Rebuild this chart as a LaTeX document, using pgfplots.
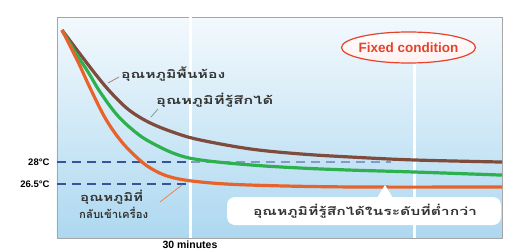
\documentclass[border=0pt]{standalone}
\usepackage{graphicx}
\usepackage{pgfplots}
\pgfplotsset{compat=1.18}
\usepackage{fontspec}
\setmainfont{Liberation Sans}
\newfontfamily\thaifont[Script=Thai]{Loma}
\definecolor{cbrown}{HTML}{7E4B3C}
\definecolor{cgreen}{HTML}{2DB04E}
\definecolor{corange}{HTML}{E8632C}
\definecolor{cnavy}{HTML}{34559A}
\definecolor{cred}{HTML}{E5432A}
\definecolor{bgtop}{HTML}{F3F9FD}
\definecolor{bgbot}{HTML}{ADD8F0}
\newcommand{\thtxt}[2]{\resizebox{#1pt}{\height}{\fontsize{11}{12}\selectfont\thaifont\bfseries #2}}
\begin{document}
\begin{tikzpicture}[x=1pt,y=1pt]
\path[use as bounding box] (-57,-12) rectangle (449,238);
\begin{axis}[
  scale only axis, width=445pt, height=221pt,
  xmin=0, xmax=100, ymin=22.82, ymax=37.89,
  ticks=none,
  axis line style={draw=gray!70, line width=0.8pt},
  axis background/.style={top color=bgtop, bottom color=bgbot},
  clip=true,
]
% white separators
\addplot[white, line width=2.5pt] coordinates {(30,22.82) (30,37.89)};
\addplot[white, line width=2.5pt] coordinates {(80.3,22.82) (80.3,34.75)};
% reference dashed lines
\addplot[cnavy, line width=1.3pt, dash pattern=on 9pt off 6pt] coordinates {(0,28) (30,28)};
\addplot[cnavy!60, line width=1.2pt, dash pattern=on 9pt off 6pt] coordinates {(30,28) (75,28)};
\addplot[cnavy, line width=1.3pt, dash pattern=on 9pt off 6pt] coordinates {(0,26.5) (30,26.5)};
% curves
\addplot[cbrown, line width=3.2pt, smooth, tension=0.6] coordinates {
 (1.13,37.00) (5.19,35.36) (9.70,33.59) (13.08,32.43) (16.47,31.48) (20.98,30.66)
 (26.62,29.98) (32.26,29.50) (43.53,28.89) (54.81,28.55) (66.09,28.34) (80.30,28.14) (100,28.00)};
\addplot[cgreen, line width=3.2pt, smooth, tension=0.6] coordinates {
 (1.13,37.00) (4.06,35.50) (6.99,34.14) (9.70,32.77) (13.53,31.20) (17.59,30.05)
 (20.98,29.36) (26.62,28.55) (32.26,28.14) (43.53,27.80) (54.81,27.59) (66.09,27.45) (80.30,27.32) (100,27.11)};
\addplot[corange, line width=3.2pt, smooth, tension=0.6] coordinates {
 (1.13,37.00) (4.74,34.82) (7.44,33.05) (10.83,31.00) (14.21,29.50) (17.59,28.41)
 (20.98,27.59) (25.49,26.98) (32.26,26.64) (43.53,26.43) (66.09,26.30) (100,26.30)};
\end{axis}
% labels
\node[anchor=east, font=\bfseries\fontsize{9.5}{10}\selectfont] at (-4,76) {28°C};
\node[anchor=east, font=\bfseries\fontsize{9.5}{10}\selectfont] at (-4,54) {26.5°C};
\node[anchor=base, inner sep=0pt, font=\bfseries\fontsize{10.5}{11}\selectfont] at (133,-10.5) {30 minutes};
% fixed condition
\draw[cred, line width=1.2pt, top color=white, bottom color=red!6] (351.5,190.5) ellipse (67pt and 15.5pt);
\node[text=cred, font=\bfseries\fontsize{13.5}{14}\selectfont] at (351.5,190.5) {Fixed condition};
% thai labels
\draw[cbrown!70, line width=0.8pt] (51,155) -- (62,161);
\node[anchor=west, inner sep=0pt, text=black!80] at (64,164) {\thtxt{104}{อุณหภูมิพื้นห้อง}};
\draw[cgreen!60!black!60, line width=0.8pt] (94,121) -- (101,129);
\node[anchor=west, inner sep=0pt, text=black!80] at (99,138) {\thtxt{117}{อุณหภูมิที่รู้สึกได้}};
\draw[corange!80, line width=0.8pt] (103,36) -- (125,53);
\node[anchor=west, inner sep=0pt, text=black!80] at (23,41) {\thtxt{63}{อุณหภูมิที่}};
\node[anchor=west, inner sep=0pt, text=black!80] at (22,25) {\thtxt{69}{กลับเข้าเครื่อง}};
% white box
\fill[white] (320,40) -- (328,53) -- (336,40) -- cycle;
\fill[white, rounded corners=8pt] (170,13) rectangle (444,41);
\node[inner sep=0pt, text=black!80] at (308,27) {\thtxt{224}{อุณหภูมิที่รู้สึกได้ในระดับที่ต่ำกว่า}};
\end{tikzpicture}
\end{document}
